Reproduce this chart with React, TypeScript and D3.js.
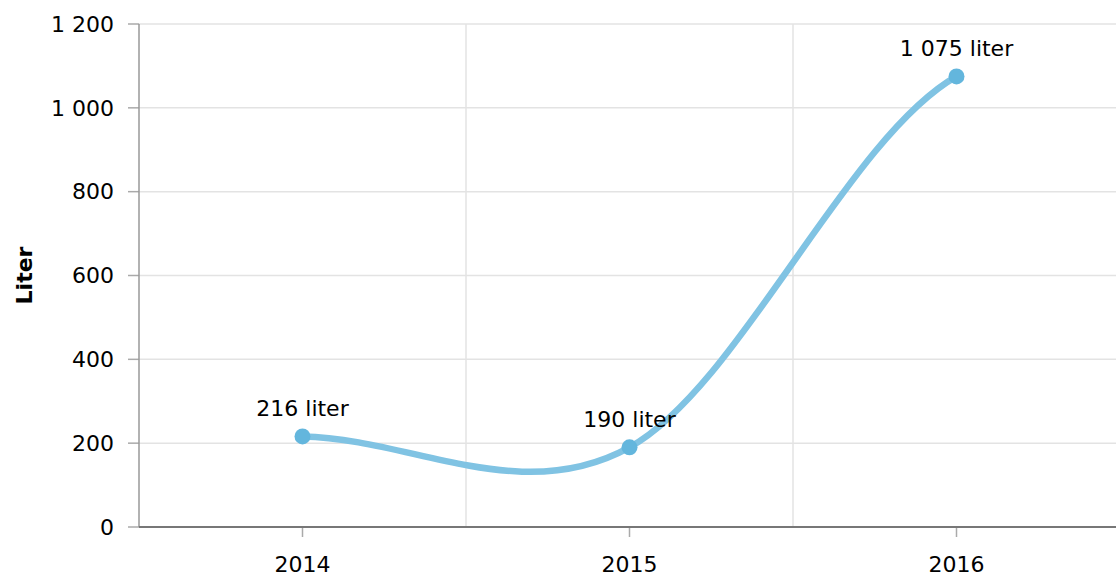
import React from "react";
import * as d3 from "d3";

const categories = ["2014", "2015", "2016"];
const values = [216, 190, 1075];
const yTicks = [0, 200, 400, 600, 800, 1000, 1200];
const unit = "liter";
const yTitle = "Liter";

const W = 1116;
const H = 577;
const M = { left: 139, top: 24, bottom: 50 };
const plotRight = 1120;

const fmt = (v: number) => d3.format(",")(v).replace(/,/g, " ");

export default function App() {
  const x = d3.scaleBand<string>().domain(categories).range([M.left, plotRight]).padding(0);
  const y = d3.scaleLinear().domain([0, 1200]).range([H - M.bottom, M.top]);
  const cx = (c: string) => (x(c) as number) + x.bandwidth() / 2;
  const pts = categories.map((c, i) => [cx(c), y(values[i])] as [number, number]);

  const p = d3.path();
  pts.forEach((pt, i) => {
    if (i === 0) {
      p.moveTo(pt[0], pt[1]);
      return;
    }
    const a = pts[i - 1];
    const prev = pts[Math.max(0, i - 2)];
    const next = pts[Math.min(pts.length - 1, i + 1)];
    const dx = pt[0] - a[0];
    p.bezierCurveTo(
      a[0] + dx / 3,
      a[1] + (pt[1] - prev[1]) / 6,
      pt[0] - dx / 3,
      pt[1] - (next[1] - a[1]) / 6,
      pt[0],
      pt[1]
    );
  });

  const font = "'DejaVu Sans', Verdana, sans-serif";
  const fs = 22;
  const y0 = y(0);
  const bounds = categories.map((c) => x(c) as number).concat([plotRight]).slice(1);

  return (
    <svg width={W} height={H} style={{ position: "absolute", left: 0, top: 0, fontFamily: font }}>
      {yTicks.map((t) => (
        <g key={t}>
          {t > 0 && (
            <line x1={M.left} x2={plotRight} y1={y(t)} y2={y(t)} stroke="#e3e3e3" strokeWidth={1.5} />
          )}
          <line x1={M.left - 11} x2={M.left} y1={y(t)} y2={y(t)} stroke="#aaa" strokeWidth={1.5} />
          <text x={M.left - 25} y={y(t)} dy="0.35em" textAnchor="end" fontSize={fs} fill="#000">
            {fmt(t)}
          </text>
        </g>
      ))}
      {bounds.map((b, i) => (
        <line key={i} x1={b} x2={b} y1={M.top} y2={y0} stroke="#e3e3e3" strokeWidth={1.5} />
      ))}
      <line x1={M.left} x2={M.left} y1={M.top} y2={y0} stroke="#999" strokeWidth={1.5} />
      <line x1={M.left} x2={plotRight} y1={y0} y2={y0} stroke="#777" strokeWidth={2} />
      {categories.map((c) => (
        <g key={c}>
          <line x1={cx(c)} x2={cx(c)} y1={y0 + 1} y2={y0 + 10} stroke="#aaa" strokeWidth={1.5} />
          <text x={cx(c)} y={y0 + 37} dy="0.35em" textAnchor="middle" fontSize={fs} fill="#000">
            {c}
          </text>
        </g>
      ))}
      <text
        transform={`translate(24,${(M.top + y0) / 2}) rotate(-90)`}
        textAnchor="middle"
        dy="0.35em"
        fontSize={fs}
        fontWeight="bold"
        fill="#000"
      >
        {yTitle}
      </text>
      <path d={p.toString()} fill="none" stroke="#80c3e3" strokeWidth={6.5} strokeLinecap="round" />
      {pts.map((pt, i) => (
        <g key={i}>
          <circle cx={pt[0]} cy={pt[1]} r={8} fill="#63b6dd" />
          <text x={pt[0]} y={pt[1] - 28} dy="0.35em" textAnchor="middle" fontSize={fs} fill="#000">
            {`${fmt(values[i])} ${unit}`}
          </text>
        </g>
      ))}
    </svg>
  );
}
